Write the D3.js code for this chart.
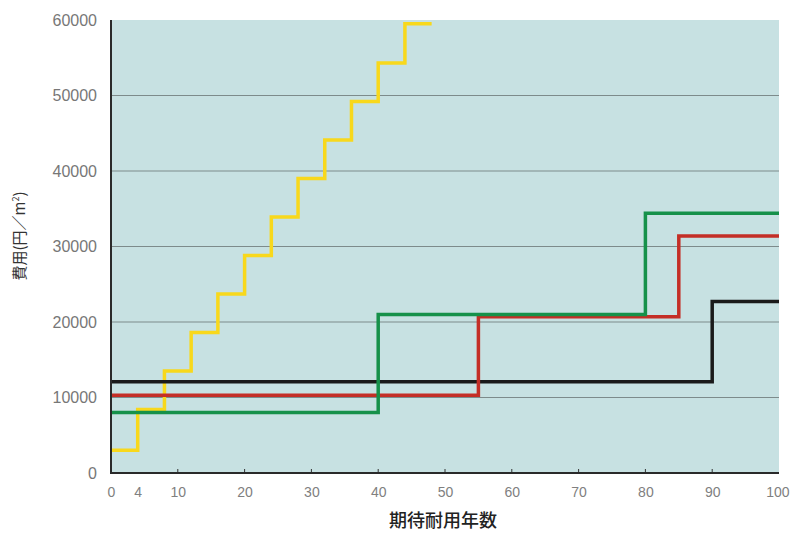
<!DOCTYPE html>
<html>
<head>
<meta charset="utf-8">
<script src="https://cdn.jsdelivr.net/npm/d3@7"></script>
<style>
  body { margin: 0; background: #fff; }
  text { font-family: "Liberation Sans", "DejaVu Sans", sans-serif; }
  .cjk { font-family: "Noto Sans CJK JP", sans-serif; }
</style>
</head>
<body>
<svg id="chart" width="790" height="533"></svg>
<script>
// step years (start of each level) and cost levels (円/m²)
var yellowYears = [0, 4, 8, 12, 16, 20, 24, 28, 32, 36, 40, 44, 48];
var yellowCost  = [3000, 8400, 13500, 18600, 23700, 28800, 33900, 39000, 44100, 49200, 54300, 59500, 59500];

var blackYears = [0, 90, 100];
var blackCost  = [12100, 22700, 22700];

var redYears = [0, 55, 85, 100];
var redCost  = [10300, 20700, 31400, 31400];

var greenYears = [0, 40, 80, 100];
var greenCost  = [8000, 21000, 34400, 34400];

var xTicks = [0, 4, 10, 20, 30, 40, 50, 60, 70, 80, 90, 100];
var yTicks = [0, 10000, 20000, 30000, 40000, 50000, 60000];

var svg = d3.select("#chart");

var x = d3.scaleLinear().domain([0, 100]).range([111, 779]);
var y = d3.scaleLinear().domain([0, 60000]).range([473, 20]);

// plot background
svg.append("rect")
    .attr("x", x(0))
    .attr("y", y(60000))
    .attr("width", x(100) - x(0))
    .attr("height", y(0) - y(60000))
    .attr("fill", "#c7e1e2");

// grid
svg.selectAll(".grid")
    .data(yTicks.filter(function (d) { return d > 0 && d < 60000; }))
    .enter().append("line")
    .attr("x1", x(0))
    .attr("x2", x(100))
    .attr("y1", function (d) { return y(d); })
    .attr("y2", function (d) { return y(d); })
    .attr("stroke", "#7d8b8b")
    .attr("stroke-width", 1);

function series(years, cost) {
    return years.map(function (d, i) { return [d, cost[i]]; });
}

var line = d3.line()
    .x(function (d) { return x(d[0]); })
    .y(function (d) { return y(d[1]); })
    .curve(d3.curveStepAfter);

var lines = [
    { data: series(yellowYears, yellowCost), color: "#f8d81c" },
    { data: series(blackYears, blackCost), color: "#1a1a1a" },
    { data: series(redYears, redCost), color: "#c42e26" },
    { data: series(greenYears, greenCost), color: "#16914a" }
];

lines.forEach(function (s) {
    svg.append("path")
        .attr("d", line(s.data))
        .attr("fill", "none")
        .attr("stroke", s.color)
        .attr("stroke-width", 3.5)
        .attr("stroke-linejoin", "miter");
});

// axes
var xAxis = d3.axisBottom(x)
    .tickValues(xTicks)
    .tickSize(0)
    .tickPadding(14)
    .tickFormat(d3.format("d"));

var gx = svg.append("g")
    .attr("transform", "translate(0," + y(0) + ")")
    .call(xAxis);
gx.select(".domain").remove();
gx.selectAll("text")
    .attr("font-size", 14)
    .attr("fill", "#808080");
// last label sits against the right edge
gx.selectAll("text")
    .filter(function (d) { return d === 100; })
    .attr("text-anchor", "end")
    .attr("x", 10);

// inner ticks on x axis
svg.selectAll(".xtick")
    .data(xTicks.filter(function (d) { return d >= 10 && d < 100; }))
    .enter().append("line")
    .attr("x1", function (d) { return x(d); })
    .attr("x2", function (d) { return x(d); })
    .attr("y1", y(0))
    .attr("y2", y(0) - 4)
    .attr("stroke", "#333")
    .attr("stroke-width", 1);

var yAxis = d3.axisLeft(y)
    .tickValues(yTicks)
    .tickSize(0)
    .tickPadding(14)
    .tickFormat(d3.format("d"));

var gy = svg.append("g")
    .attr("transform", "translate(" + x(0) + ",0)")
    .call(yAxis);
gy.select(".domain").remove();
gy.selectAll("text")
    .attr("font-size", 16)
    .attr("fill", "#777");

svg.append("line")
    .attr("x1", x(0)).attr("x2", x(0))
    .attr("y1", y(60000)).attr("y2", y(0))
    .attr("stroke", "#2a2a2a").attr("stroke-width", 2);

svg.append("line")
    .attr("x1", x(0) - 1).attr("x2", x(100))
    .attr("y1", y(0)).attr("y2", y(0))
    .attr("stroke", "#2a2a2a").attr("stroke-width", 2);

// titles
svg.append("text")
    .attr("class", "cjk")
    .attr("x", 443)
    .attr("y", 527)
    .attr("text-anchor", "middle")
    .attr("font-size", 18)
    .attr("font-weight", 500)
    .attr("fill", "#222")
    .text("期待耐用年数");

var yl = svg.append("text")
    .attr("class", "cjk")
    .attr("transform", "translate(25,236) rotate(-90)")
    .attr("text-anchor", "middle")
    .attr("font-size", 15)
    .attr("fill", "#333");
yl.append("tspan").text("費用(円／m");
yl.append("tspan").attr("font-size", 9).attr("dy", -6).text("2");
yl.append("tspan").attr("dy", 6).text(")");
</script>
</body>
</html>
